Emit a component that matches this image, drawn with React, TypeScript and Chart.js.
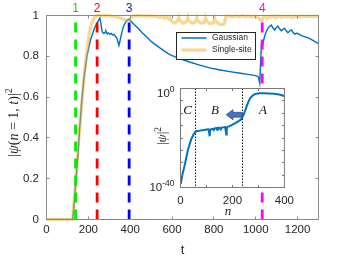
import React, { useEffect, useRef } from "react";
import { Chart, registerables } from "chart.js";

Chart.register(...registerables);

// ---------------- main chart data ----------------
const xTickValues = [0, 200, 400, 600, 800, 1000, 1200];
const xTickLabels = ["0", "200", "400", "600", "800", "1000", "1200"];
const yTickValues = [0, 0.2, 0.4, 0.6, 0.8, 1];
const yTickLabels = ["0", "0.2", "0.4", "0.6", "0.8", "1"];

const seriesNames = ["Gaussian", "Single-site"];

const gaussianT = [
  0, 125, 130, 140, 150, 158, 170, 180, 193, 210, 230, 248, 255, 260, 266, 274, 280, 284, 290, 296,
  303, 310, 316, 322, 330, 336, 341, 346, 350, 355, 360, 366, 372, 380, 388, 394, 400, 420, 440, 460,
  480, 500, 530, 560, 589, 636, 684, 732, 780, 830, 875, 920, 970, 1000, 1012, 1019, 1027, 1031, 1036, 1042,
  1050, 1058, 1066, 1074, 1082, 1090, 1098, 1106, 1114, 1122, 1130, 1138, 1146, 1154, 1162, 1170, 1178, 1186, 1194, 1201,
  1212, 1225, 1240, 1257, 1275, 1297, 1300,
];
const gaussianY = [
  0, 0, 0.05, 0.18, 0.31, 0.44, 0.6, 0.7, 0.8, 0.88, 0.94, 0.975, 0.988, 0.96, 0.92, 0.912, 0.918, 0.924, 0.91, 0.915,
  0.908, 0.912, 0.905, 0.908, 0.897, 0.89, 0.872, 0.853, 0.87, 0.895, 0.915, 0.94, 0.955, 0.97, 0.978, 0.983, 0.975, 0.955, 0.935, 0.913,
  0.893, 0.873, 0.85, 0.828, 0.808, 0.789, 0.772, 0.757, 0.743, 0.733, 0.725, 0.718, 0.71, 0.705, 0.7, 0.668, 0.855, 0.845, 0.87, 0.896,
  0.92, 0.937, 0.946, 0.953, 0.94, 0.929, 0.94, 0.948, 0.935, 0.925, 0.932, 0.937, 0.925, 0.916, 0.924, 0.929, 0.918, 0.909, 0.913, 0.912,
  0.905, 0.899, 0.894, 0.888, 0.877, 0.863, 0.862,
];

const singleT = [
  0, 125, 158, 171, 180, 190, 202, 215, 228, 240, 260, 290, 320, 345, 365, 383, 394, 405, 414, 440,
  470, 500, 525, 540, 550, 562, 572, 582, 589, 594, 610, 626, 632, 637, 653, 669, 675, 680, 696, 712,
  718, 723, 739, 755, 760, 765, 781, 797, 803, 808, 824, 842, 850, 856, 870, 890, 900, 920, 935, 950,
  965, 980, 995, 1010, 1020, 1028, 1035, 1045, 1055, 1062, 1075, 1085, 1095, 1105, 1120, 1130, 1145, 1160, 1175, 1190,
  1205, 1220, 1240, 1255, 1270, 1285, 1300,
];
const singleY = [
  0, 0, 0.44, 0.6, 0.7, 0.8, 0.9, 0.96, 0.99, 0.998, 1.0, 0.999, 0.995, 0.99, 0.983, 0.976, 0.978, 0.99, 0.998, 0.999,
  0.997, 0.998, 0.996, 0.99, 0.996, 0.987, 0.995, 0.985, 0.992, 0.975, 0.963, 0.972, 0.992, 0.975, 0.962, 0.97, 0.992, 0.975, 0.962, 0.968,
  0.99, 0.974, 0.962, 0.966, 0.99, 0.973, 0.96, 0.965, 0.988, 0.972, 0.958, 0.955, 0.96, 0.996, 0.998, 0.993, 0.998, 0.995, 0.999, 0.994,
  0.998, 0.993, 0.997, 0.99, 0.982, 0.975, 0.99, 0.996, 0.985, 0.997, 0.992, 0.998, 0.99, 0.998, 0.992, 0.997, 0.993, 0.998, 0.99, 0.997,
  0.993, 0.998, 0.994, 0.998, 0.993, 0.997, 0.995,
];

const markerT = [139, 242, 395, 1031];
const markerNames = ["1", "2", "3", "4"];
const markerLineColors = ["#00ee00", "#ff0000", "#0000ff", "#ff00ff"];
const markerTextColors = ["#10d010", "#ff0000", "#1c2270", "#ff00ff"];

// ---------------- inset data ----------------
const insetN = [
  1, 8, 17, 29, 41, 50, 56, 62, 72, 82, 92, 100, 108, 110, 112, 114, 118, 124, 128, 131,
  137, 141, 144, 150, 155, 158, 166, 172, 174, 176, 178, 182, 188, 200, 213, 225, 232, 237, 244, 250,
  256, 262, 268, 274, 283, 292, 305, 323, 340, 360, 380, 394, 398,
];
const insetExp = [
  -38.5, -34.5, -30.6, -24.6, -20.6, -18.6, -17.6, -17.2, -17.1, -16.9, -16.8, -16.6, -16.5, -17.5, -19.3, -17, -16.4, -16.3, -16.8, -16.1,
  -16.0, -16.7, -15.9, -15.9, -16.5, -15.8, -15.7, -15.6, -17, -18.6, -16, -15.4, -15.3, -14.6, -13.9, -13.1, -12.6, -11.9, -10.3, -8.6,
  -6.8, -5.2, -4, -3.2, -2.5, -2.1, -1.9, -1.9, -2, -2.1, -2.4, -2.8, -3.3,
];
const insetXTickValues = [0, 100, 200, 300, 400];
const insetXTickLabels = ["0", "", "200", "", "400"];
const insetYTickExp = [-40, -35, -30, -25, -20, -15, -10, -5, 0];
const regionBoundN = [56, 237.5];
const regionNames = ["C", "B", "A"];
const regionLabelN = [27, 133, 317];
const regionLabelExp = -9.1;
const arrowTailN = 237.5;
const arrowTipN = 176;
const arrowExp = -10.6;

// ---------------- styles ----------------
const BLUE = "#0072BD";
const ORANGE = "rgba(240,175,40,0.5)";
const AXIS = "#8a8a8a";
const TEXT = "#262626";
const SANS = "'Liberation Sans', Arial, sans-serif";
const SERIF = "'Liberation Serif', 'Times New Roman', serif";

type Run = { text: string; font: string; dy: number };

function drawRuns(ctx: CanvasRenderingContext2D, runs: Run[], cx: number, cy: number, rotate: boolean, color: string) {
  ctx.save();
  ctx.translate(cx, cy);
  if (rotate) ctx.rotate(-Math.PI / 2);
  ctx.fillStyle = color;
  ctx.textBaseline = "alphabetic";
  ctx.textAlign = "left";
  let total = 0;
  const widths = runs.map((r) => {
    ctx.font = r.font;
    const w = ctx.measureText(r.text).width;
    total += w;
    return w;
  });
  let x = -total / 2;
  runs.forEach((r, i) => {
    ctx.font = r.font;
    ctx.fillText(r.text, x, r.dy);
    x += widths[i];
  });
  ctx.restore();
}

const snap = (v: number) => Math.round(v - 0.5) + 0.5;

const mainDecor = {
  id: "mainDecor",
  afterDatasetsDraw(chart: any) {
    const { ctx, chartArea: a, scales } = chart;
    const xs = scales.x;
    const ys = scales.y;
    ctx.save();
    // dashed marker lines
    markerT.forEach((t, i) => {
      const px = xs.getPixelForValue(t);
      ctx.strokeStyle = markerLineColors[i];
      ctx.lineWidth = 2.8;
      ctx.setLineDash([10, 7]);
      ctx.beginPath();
      ctx.moveTo(px, ys.getPixelForValue(0));
      ctx.lineTo(px, ys.getPixelForValue(1));
      ctx.stroke();
      ctx.setLineDash([]);
      ctx.fillStyle = markerTextColors[i];
      ctx.font = `12px ${SANS}`;
      ctx.textAlign = "center";
      ctx.textBaseline = "alphabetic";
      ctx.fillText(markerNames[i], px, 12);
    });
    // box
    ctx.strokeStyle = AXIS;
    ctx.lineWidth = 1;
    ctx.strokeRect(a.left, a.top, a.right - a.left, a.bottom - a.top);
    // inward ticks
    ctx.beginPath();
    xTickValues.forEach((v) => {
      const px = snap(xs.getPixelForValue(v));
      ctx.moveTo(px, a.bottom);
      ctx.lineTo(px, a.bottom - 3);
      ctx.moveTo(px, a.top);
      ctx.lineTo(px, a.top + 3);
    });
    yTickValues.forEach((v) => {
      const py = snap(ys.getPixelForValue(v));
      ctx.moveTo(a.left, py);
      ctx.lineTo(a.left + 3, py);
      ctx.moveTo(a.right, py);
      ctx.lineTo(a.right - 3, py);
    });
    ctx.stroke();
    // y axis label |ψ(n = 1, t)|²
    const r = `14px ${SERIF}`;
    const it = `italic 14px ${SERIF}`;
    drawRuns(
      ctx,
      [
        { text: "|", font: r, dy: 3.5 },
        { text: "ψ", font: it, dy: 3.5 },
        { text: "(", font: r, dy: 3.5 },
        { text: "n", font: it, dy: 3.5 },
        { text: " = 1, ", font: r, dy: 3.5 },
        { text: "t", font: it, dy: 3.5 },
        { text: ")|", font: r, dy: 3.5 },
        { text: "2", font: `10px ${SERIF}`, dy: -2 },
      ],
      14,
      122.5,
      true,
      TEXT
    );
    // legend
    const lx = 176.5, ly = 32.5, lw = 79, lh = 27;
    ctx.fillStyle = "#ffffff";
    ctx.fillRect(lx, ly, lw, lh);
    ctx.strokeStyle = TEXT;
    ctx.lineWidth = 1;
    ctx.strokeRect(lx, ly, lw, lh);
    ctx.lineCap = "butt";
    ctx.strokeStyle = BLUE;
    ctx.lineWidth = 1.5;
    ctx.beginPath();
    ctx.moveTo(181.5, 38);
    ctx.lineTo(206.5, 38);
    ctx.stroke();
    ctx.strokeStyle = ORANGE;
    ctx.lineWidth = 3.2;
    ctx.beginPath();
    ctx.moveTo(181.5, 50);
    ctx.lineTo(206.5, 50);
    ctx.stroke();
    ctx.fillStyle = TEXT;
    ctx.font = `8.5px ${SANS}`;
    ctx.textAlign = "left";
    ctx.textBaseline = "middle";
    ctx.fillText(seriesNames[0], 212, 38);
    ctx.fillText(seriesNames[1], 212, 50);
    ctx.restore();
  },
};

const insetDecor = {
  id: "insetDecor",
  beforeDatasetsDraw(chart: any) {
    const { ctx, chartArea: a, scales } = chart;
    const xs = scales.x;
    ctx.save();
    ctx.fillStyle = "#ffffff";
    ctx.fillRect(a.left, a.top, a.right - a.left, a.bottom - a.top);
    ctx.strokeStyle = "#111111";
    ctx.lineWidth = 1;
    ctx.setLineDash([1.5, 1.5]);
    regionBoundN.forEach((n) => {
      const px = snap(xs.getPixelForValue(n));
      ctx.beginPath();
      ctx.moveTo(px, a.top);
      ctx.lineTo(px, a.bottom);
      ctx.stroke();
    });
    ctx.restore();
  },
  afterDatasetsDraw(chart: any) {
    const { ctx, chartArea: a, scales } = chart;
    const xs = scales.x;
    const ys = scales.y;
    ctx.save();
    // arrow
    const tip = xs.getPixelForValue(arrowTipN);
    const tail = xs.getPixelForValue(arrowTailN);
    const cy = ys.getPixelForValue(Math.pow(10, arrowExp));
    const headLen = 6.7, headH = 5, bodyH = 2.4;
    ctx.fillStyle = "#4472C4";
    ctx.strokeStyle = "#2F528F";
    ctx.lineWidth = 0.8;
    ctx.beginPath();
    ctx.moveTo(tip, cy);
    ctx.lineTo(tip + headLen, cy - headH);
    ctx.lineTo(tip + headLen, cy - bodyH);
    ctx.lineTo(tail, cy - bodyH);
    ctx.lineTo(tail, cy + bodyH);
    ctx.lineTo(tip + headLen, cy + bodyH);
    ctx.lineTo(tip + headLen, cy + headH);
    ctx.closePath();
    ctx.fill();
    ctx.stroke();
    // region letters
    ctx.fillStyle = "#111111";
    ctx.font = `italic 13px ${SERIF}`;
    ctx.textAlign = "center";
    ctx.textBaseline = "middle";
    regionNames.forEach((name, i) => {
      ctx.fillText(name, xs.getPixelForValue(regionLabelN[i]), ys.getPixelForValue(Math.pow(10, regionLabelExp)));
    });
    // box
    ctx.strokeStyle = "#7a7a7a";
    ctx.lineWidth = 1;
    ctx.strokeRect(a.left, a.top, a.right - a.left, a.bottom - a.top);
    ctx.beginPath();
    insetXTickValues.forEach((v) => {
      const px = snap(xs.getPixelForValue(v));
      ctx.moveTo(px, a.bottom);
      ctx.lineTo(px, a.bottom - 2.5);
      ctx.moveTo(px, a.top);
      ctx.lineTo(px, a.top + 2.5);
    });
    insetYTickExp.forEach((e) => {
      const py = snap(ys.getPixelForValue(Math.pow(10, e)));
      ctx.moveTo(a.left, py);
      ctx.lineTo(a.left + 2.5, py);
      ctx.moveTo(a.right, py);
      ctx.lineTo(a.right - 2.5, py);
    });
    ctx.stroke();
    // y tick labels 10^0 and 10^-40
    const labelExp = [insetYTickExp[insetYTickExp.length - 1], insetYTickExp[0]];
    labelExp.forEach((e) => {
      const py = ys.getPixelForValue(Math.pow(10, e));
      const base = e === 0 ? py + 8.2 : py + 3;
      const sup = String(e);
      ctx.font = `8.5px ${SANS}`;
      const sw = ctx.measureText(sup).width;
      ctx.font = `11.5px ${SANS}`;
      const bw = ctx.measureText("10").width;
      const right = a.left - 6;
      ctx.fillStyle = TEXT;
      ctx.textAlign = "left";
      ctx.textBaseline = "alphabetic";
      ctx.fillText("10", right - sw - bw, base);
      ctx.font = `8.5px ${SANS}`;
      ctx.fillText(sup, right - sw, base - 5);
    });
    // axis labels
    drawRuns(ctx, [{ text: "n", font: `italic 13px ${SERIF}`, dy: 0 }], 88, 135, false, TEXT);
    drawRuns(
      ctx,
      [
        { text: "|", font: `13px ${SERIF}`, dy: 3.2 },
        { text: "ψ", font: `italic 13px ${SERIF}`, dy: 3.2 },
        { text: "|", font: `13px ${SERIF}`, dy: 3.2 },
        { text: "2", font: `9.5px ${SERIF}`, dy: -2 },
      ],
      22.5,
      56,
      true,
      TEXT
    );
    ctx.restore();
  },
};

export default function App() {
  const mainRef = useRef<HTMLCanvasElement | null>(null);
  const insetRef = useRef<HTMLCanvasElement | null>(null);

  useEffect(() => {
    if (!mainRef.current || !insetRef.current) return;
    const main = new Chart(mainRef.current, {
      type: "line",
      data: {
        datasets: [
          {
            label: seriesNames[0],
            data: gaussianT.map((t, i) => ({ x: t, y: gaussianY[i] })),
            borderColor: BLUE,
            borderWidth: 1.4,
            pointRadius: 0,
            tension: 0,
            order: 2,
          },
          {
            label: seriesNames[1],
            data: singleT.map((t, i) => ({ x: t, y: singleY[i] })),
            borderColor: ORANGE,
            borderWidth: 3.2,
            pointRadius: 0,
            tension: 0,
            order: 1,
            clip: { left: 0, top: 3, right: 0, bottom: 3 },
          },
        ],
      },
      options: {
        responsive: false,
        animation: false,
        devicePixelRatio: 1,
        layout: { padding: { left: 0, top: 15.5, right: 20.5, bottom: 0 } },
        plugins: { legend: { display: false }, tooltip: { enabled: false } },
        scales: {
          x: {
            type: "linear",
            min: 0,
            max: 1300,
            afterBuildTicks: (s: any) => {
              s.ticks = xTickValues.map((v) => ({ value: v }));
            },
            afterFit: (s: any) => {
              s.height = 41.5;
            },
            grid: { display: false, drawTicks: false, tickLength: 0 },
            border: { display: false },
            ticks: {
              autoSkip: false,
              maxRotation: 0,
              minRotation: 0,
              padding: 3.5,
              color: TEXT,
              font: { family: SANS, size: 11.5 },
              callback: (_v: any, i: number) => xTickLabels[i],
            },
            title: {
              display: true,
              text: "t",
              color: TEXT,
              font: { family: SANS, size: 13 },
              padding: { top: 0, bottom: 3.2 },
            },
          },
          y: {
            type: "linear",
            min: 0,
            max: 1,
            afterBuildTicks: (s: any) => {
              s.ticks = yTickValues.map((v) => ({ value: v }));
            },
            afterFit: (s: any) => {
              s.width = 46.5;
            },
            grid: { display: false, drawTicks: false, tickLength: 0 },
            border: { display: false },
            ticks: {
              padding: 7.5,
              color: TEXT,
              font: { family: SANS, size: 11.5 },
              callback: (_v: any, i: number) => yTickLabels[i],
            },
          },
        },
      },
      plugins: [mainDecor],
    } as any);

    const inset = new Chart(insetRef.current, {
      type: "line",
      data: {
        datasets: [
          {
            label: "|ψ|²",
            data: insetN.map((n, i) => ({ x: n, y: Math.pow(10, insetExp[i]) })),
            borderColor: BLUE,
            borderWidth: 2,
            pointRadius: 0,
            tension: 0,
          },
        ],
      },
      options: {
        responsive: false,
        animation: false,
        devicePixelRatio: 1,
        layout: { padding: { left: 0, top: 8.5, right: 10.5, bottom: 0 } },
        plugins: { legend: { display: false }, tooltip: { enabled: false } },
        scales: {
          x: {
            type: "linear",
            min: 0,
            max: 400,
            afterBuildTicks: (s: any) => {
              s.ticks = insetXTickValues.map((v) => ({ value: v }));
            },
            afterFit: (s: any) => {
              s.height = 32.5;
            },
            grid: { display: false, drawTicks: false, tickLength: 0 },
            border: { display: false },
            ticks: {
              autoSkip: false,
              maxRotation: 0,
              minRotation: 0,
              padding: 6,
              color: TEXT,
              font: { family: SANS, size: 11.5 },
              callback: (_v: any, i: number) => insetXTickLabels[i],
            },
          },
          y: {
            type: "logarithmic",
            min: 1e-40,
            max: 1,
            afterBuildTicks: (s: any) => {
              s.ticks = insetYTickExp.map((e) => ({ value: Math.pow(10, e) }));
            },
            afterFit: (s: any) => {
              s.width = 40.5;
            },
            grid: { display: false, drawTicks: false, tickLength: 0 },
            border: { display: false },
            ticks: { display: false },
          },
        },
      },
      plugins: [insetDecor],
    } as any);

    return () => {
      main.destroy();
      inset.destroy();
    };
  }, []);

  return (
    <div style={{ position: "fixed", left: 0, top: 0, width: 339, height: 261, background: "#ffffff" }}>
      <canvas ref={mainRef} width={339} height={261} style={{ position: "absolute", left: 0, top: 0 }} />
      <canvas ref={insetRef} width={160} height={140} style={{ position: "absolute", left: 140, top: 80 }} />
    </div>
  );
}
